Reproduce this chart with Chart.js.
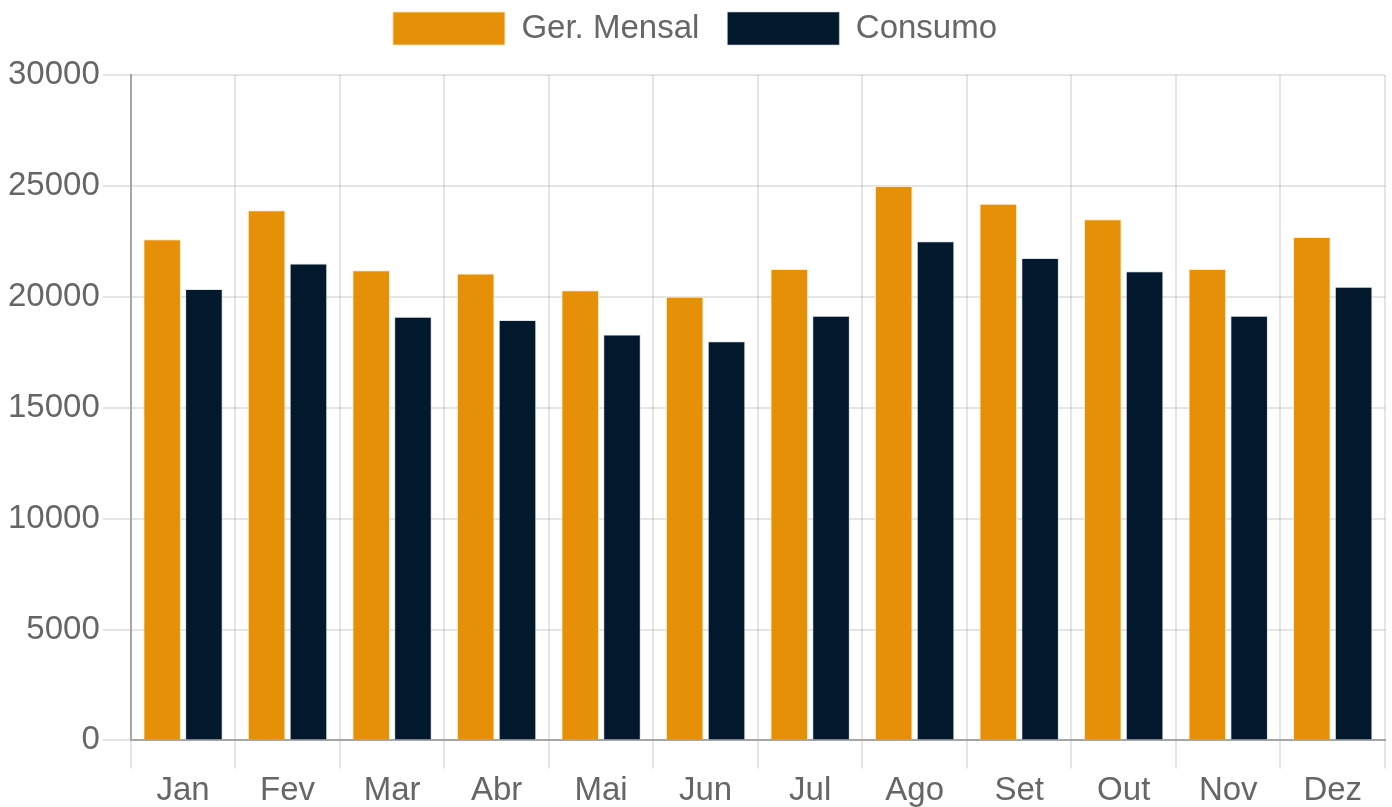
<!DOCTYPE html>
<html>
<head>
<meta charset="utf-8">
<script src="https://cdn.jsdelivr.net/npm/chart.js@4.4.1/dist/chart.umd.min.js"></script>
<style>
  html, body { margin: 0; padding: 0; background: #fff; }
  #wrap { width: 1392px; height: 807px; }
</style>
</head>
<body>
<div id="wrap"><canvas id="grafico"></canvas></div>
<script>
var meses = ["Jan", "Fev", "Mar", "Abr", "Mai", "Jun", "Jul", "Ago", "Set", "Out", "Nov", "Dez"];
var geracaoMensal = [22600, 23900, 21200, 21050, 20300, 20000, 21250, 25000, 24200, 23500, 21250, 22700];
var consumo = [20350, 21500, 19100, 18950, 18300, 18000, 19150, 22500, 21750, 21150, 19150, 20450];

var corGeracao = "#e69008";
var corConsumo = "#01182d";

Chart.defaults.font.family = "'Liberation Sans', Arial, sans-serif";
Chart.defaults.font.size = 33;
Chart.defaults.color = "#666";

// espaco extra abaixo da legenda
var espacoLegenda = {
  id: "espacoLegenda",
  beforeInit: function (chart) {
    var fitOriginal = chart.legend.fit;
    chart.legend.fit = function () {
      fitOriginal.bind(chart.legend)();
      this.height += 20;
    };
  }
};

var ctx = document.getElementById("grafico").getContext("2d");
var grafico = new Chart(ctx, {
  type: "bar",
  data: {
    labels: meses,
    datasets: [{
      label: "Ger. Mensal",
      data: geracaoMensal,
      backgroundColor: corGeracao,
      borderColor: "rgba(255, 230, 190, 0.8)",
      borderWidth: 1
    }, {
      label: "Consumo",
      data: consumo,
      backgroundColor: corConsumo,
      borderColor: "rgba(200, 210, 220, 0.6)",
      borderWidth: 1
    }]
  },
  plugins: [espacoLegenda],
  options: {
    responsive: true,
    maintainAspectRatio: false,
    animation: false,
    layout: { padding: { top: -16, left: 5, right: 7, bottom: -7 } },
    plugins: {
      legend: {
        position: "top",
        labels: { boxWidth: 112, boxHeight: 33, padding: 28 }
      },
      tooltip: { enabled: false }
    },
    scales: {
      x: {
        grid: { color: "rgba(0,0,0,0.1)", lineWidth: 2, tickLength: 28 },
        border: { color: "#a6a6a6", width: 2 },
        ticks: { padding: 3 }
      },
      y: {
        min: 0,
        max: 30000,
        ticks: {
          stepSize: 5000,
          padding: 3,
          callback: function (valor) { return String(valor); }
        },
        grid: { color: "rgba(0,0,0,0.1)", lineWidth: 2, tickLength: 28 },
        border: { color: "#a6a6a6", width: 2 }
      }
    }
  }
});
</script>
</body>
</html>
